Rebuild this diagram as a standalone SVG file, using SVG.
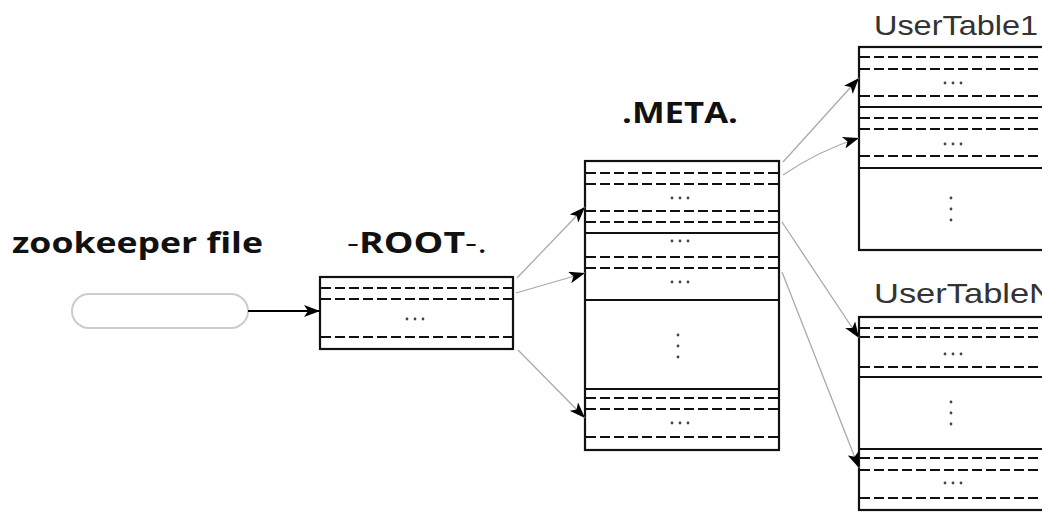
<svg xmlns="http://www.w3.org/2000/svg" width="1042" height="512" viewBox="0 0 1042 512">
<style>
.box{fill:#fff;stroke:#111;stroke-width:2.2}
.sep{stroke:#111;stroke-width:2.2}
.dash{stroke:#111;stroke-width:2.2;stroke-dasharray:10 4}
.dot{fill:#444}
.conn{stroke:#aaa;stroke-width:1.3;fill:none}
.bold{font-family:"Open Sans","DejaVu Sans",sans-serif;font-weight:bold;font-size:29px;fill:#111}
.lbl{font-family:"Liberation Sans",Arial,sans-serif;font-size:28px;fill:#333}
</style>
<defs>
<marker id="ah" markerUnits="userSpaceOnUse" markerWidth="16" markerHeight="12" refX="16" refY="6" orient="auto">
<path d="M0,0 L16,6 L0,12 L4,6 z" fill="#000"/>
</marker>
<g id="hd"><circle cx="-8" cy="0" r="1.4"/><circle cx="0" cy="0" r="1.4"/><circle cx="8" cy="0" r="1.4"/></g>
<g id="vd"><circle cx="0" cy="-11" r="1.4"/><circle cx="0" cy="0" r="1.4"/><circle cx="0" cy="11" r="1.4"/></g>
</defs>
<rect width="1042" height="512" fill="#fff"/>

<g id="zookeeper">
<text class="bold" x="12" y="253" textLength="251" lengthAdjust="spacingAndGlyphs">zookeeper file</text>
<rect x="72" y="294" width="176" height="34" rx="17" fill="#fff" stroke="#ccc" stroke-width="2"/>
</g>

<g id="root">
<text class="bold" x="347" y="253" textLength="140" lengthAdjust="spacingAndGlyphs"><tspan font-weight="normal">-</tspan>ROOT<tspan font-weight="normal">-.</tspan></text>
<rect class="box" x="320" y="277" width="193" height="72"/>
<line class="dash" x1="321" y1="288" x2="512" y2="288"/>
<line class="dash" x1="321" y1="299" x2="512" y2="299"/>
<use href="#hd" class="dot" x="415" y="319"/>
<line class="dash" x1="321" y1="337" x2="512" y2="337"/>
</g>

<g id="meta">
<text class="bold" x="622" y="123" textLength="116" lengthAdjust="spacingAndGlyphs">.META.</text>
<rect class="box" x="585" y="161" width="194" height="289"/>
<line class="dash" x1="586" y1="173" x2="778" y2="173"/>
<line class="dash" x1="586" y1="184" x2="778" y2="184"/>
<use href="#hd" class="dot" x="680" y="198"/>
<line class="dash" x1="586" y1="211" x2="778" y2="211"/>
<line class="dash" x1="586" y1="222" x2="778" y2="222"/>
<line class="sep" x1="585" y1="233" x2="779" y2="233"/>
<use href="#hd" class="dot" x="680" y="241"/>
<line class="dash" x1="586" y1="257" x2="778" y2="257"/>
<line class="dash" x1="586" y1="268" x2="778" y2="268"/>
<use href="#hd" class="dot" x="680" y="282"/>
<line class="sep" x1="585" y1="300" x2="779" y2="300"/>
<use href="#vd" class="dot" x="678" y="346"/>
<line class="sep" x1="585" y1="389" x2="779" y2="389"/>
<line class="dash" x1="586" y1="398" x2="778" y2="398"/>
<line class="dash" x1="586" y1="409" x2="778" y2="409"/>
<use href="#hd" class="dot" x="680" y="423"/>
<line class="dash" x1="586" y1="437" x2="778" y2="437"/>
</g>

<g id="usertable1">
<text class="lbl" x="874" y="35" textLength="164" lengthAdjust="spacingAndGlyphs">UserTable1</text>
<rect class="box" x="859" y="47" width="200" height="203"/>
<line class="dash" x1="860" y1="57" x2="1042" y2="57"/>
<line class="dash" x1="860" y1="69" x2="1042" y2="69"/>
<use href="#hd" class="dot" x="953" y="83"/>
<line class="dash" x1="860" y1="96" x2="1042" y2="96"/>
<line class="sep" x1="859" y1="107" x2="1042" y2="107"/>
<line class="dash" x1="860" y1="118" x2="1042" y2="118"/>
<line class="dash" x1="860" y1="129" x2="1042" y2="129"/>
<use href="#hd" class="dot" x="953" y="144"/>
<line class="dash" x1="860" y1="156" x2="1042" y2="156"/>
<line class="sep" x1="859" y1="168" x2="1042" y2="168"/>
<use href="#vd" class="dot" x="951" y="209"/>
</g>

<g id="usertableN">
<text class="lbl" x="874" y="303" textLength="180" lengthAdjust="spacingAndGlyphs">UserTableN</text>
<rect class="box" x="859" y="317" width="200" height="193"/>
<line class="dash" x1="860" y1="328" x2="1042" y2="328"/>
<line class="dash" x1="860" y1="337" x2="1042" y2="337"/>
<use href="#hd" class="dot" x="953" y="354"/>
<line class="dash" x1="860" y1="367" x2="1042" y2="367"/>
<line class="sep" x1="859" y1="377" x2="1042" y2="377"/>
<use href="#vd" class="dot" x="951" y="413"/>
<line class="sep" x1="859" y1="449" x2="1042" y2="449"/>
<line class="dash" x1="860" y1="458" x2="1042" y2="458"/>
<line class="dash" x1="860" y1="470" x2="1042" y2="470"/>
<use href="#hd" class="dot" x="953" y="483"/>
<line class="dash" x1="860" y1="498" x2="1042" y2="498"/>
</g>

<g id="connectors">
<line x1="248" y1="311" x2="320" y2="311" stroke="#000" stroke-width="2" marker-end="url(#ah)"/>
<line class="conn" x1="517" y1="278" x2="585" y2="207" marker-end="url(#ah)"/>
<line class="conn" x1="516" y1="293" x2="585" y2="273" marker-end="url(#ah)"/>
<line class="conn" x1="518" y1="350" x2="585" y2="418" marker-end="url(#ah)"/>
<line class="conn" x1="783" y1="162" x2="859" y2="78" marker-end="url(#ah)"/>
<path class="conn" d="M783,175 Q820,150 859,138" marker-end="url(#ah)"/>
<line class="conn" x1="782" y1="222" x2="859" y2="338" marker-end="url(#ah)"/>
<line class="conn" x1="782" y1="272" x2="859" y2="468" marker-end="url(#ah)"/>
</g>
</svg>
